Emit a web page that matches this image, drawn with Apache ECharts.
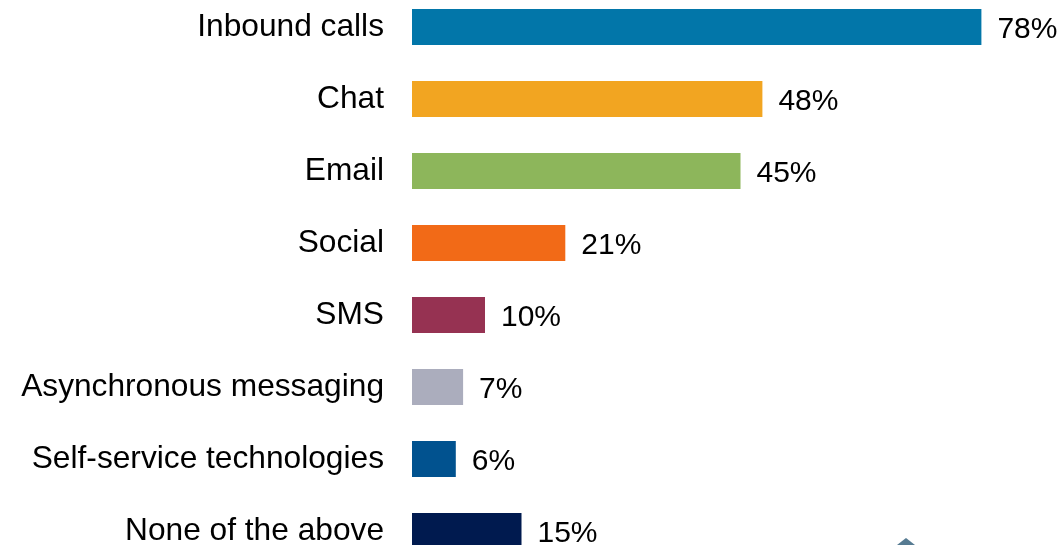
<!DOCTYPE html>
<html>
<head>
<meta charset="utf-8">
<script src="https://cdn.jsdelivr.net/npm/echarts@6/dist/echarts.min.js"></script>
<style>
  html, body { margin: 0; padding: 0; background: #ffffff; }
  #chart { width: 1064px; height: 545px; }
</style>
</head>
<body>
<div id="chart"></div>
<script>
// Contact channels and the share of respondents using each
const channels = [
  'Inbound calls',
  'Chat',
  'Email',
  'Social',
  'SMS',
  'Asynchronous messaging',
  'Self-service technologies',
  'None of the above'
];
const shares = [78, 48, 45, 21, 10, 7, 6, 15];
const barColors = [
  '#0276A9',
  '#F2A521',
  '#8DB65B',
  '#F26A17',
  '#963252',
  '#ABADBD',
  '#01528F',
  '#001A4F'
];

const chart = echarts.init(document.getElementById('chart'), null, { renderer: 'canvas' });

chart.setOption({
  animation: false,
  backgroundColor: '#ffffff',
  grid: {
    left: 412, top: -9, width: 584, height: 576,
    containLabel: false,
    outerBoundsMode: 'none'
  },
  xAxis: {
    type: 'value',
    min: 0,
    max: 80,
    show: false
  },
  yAxis: {
    type: 'category',
    data: channels,
    inverse: true,
    axisLine: { show: false },
    axisTick: { show: false },
    splitLine: { show: false },
    axisLabel: {
      margin: 28,
      color: '#000000',
      fontFamily: 'Liberation Sans, Arial, sans-serif',
      fontSize: 31.7,
      padding: [2, 0, 0, 0]
    }
  },
  series: [{
    type: 'bar',
    barWidth: 36,
    data: shares.map((v, i) => ({ value: v, itemStyle: { color: barColors[i] } })),
    label: {
      show: true,
      position: 'right',
      distance: 16,
      offset: [0, 3],
      formatter: '{c}%',
      color: '#000000',
      fontFamily: 'Liberation Sans, Arial, sans-serif',
      fontSize: 30
    }
  }],
  graphic: [{
    // small emblem peeking in at the lower edge
    type: 'polygon',
    shape: { points: [[897, 545], [906, 538], [915, 545]] },
    style: { fill: '#1d4f6e', opacity: 0.75 }
  }]
});
</script>
</body>
</html>
